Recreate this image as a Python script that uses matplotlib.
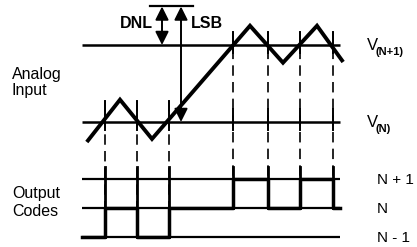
import numpy as np
import matplotlib.pyplot as plt

plt.rcParams['font.family'] = ['Liberation Sans', 'DejaVu Sans']
plt.rcParams['lines.scale_dashes'] = False

# analog input (time, volts in LSB above V(N))
wave_t = [88, 120, 152, 250, 283, 317, 342]
wave_v = [-0.24, 0.29, -0.22, 1.25, 0.77, 1.25, 0.80]

# where the input crosses a threshold, and which threshold
cross_t = [105, 137, 169, 233, 268, 300, 333]
cross_lvl = [0, 0, 0, 1, 1, 1, 1]

# output code between crossings (relative to N)
codes = [-1, 0, -1, 0, 1, 0, 1, 0]

analog_levels = [0, 1]
analog_subs = ['(N)', '(N+1)']
code_levels = [1, 0, -1]
code_labels = ['N + 1', 'N', 'N - 1']
dnl_top = 1.5  # LSB

# layout (pixels)
X0, X1 = 82, 340
VN_Y, LSB_PX = 122, 77
CODE_Y, CODE_PX = 208, 29


def ay(v):
    return VN_Y - LSB_PX * np.asarray(v, dtype=float)


def cy(c):
    return CODE_Y - CODE_PX * np.asarray(c, dtype=float)


fig = plt.figure(figsize=(4.17, 2.47), dpi=100)
ax = fig.add_axes([0, 0, 1, 1])
ax.set_xlim(0, 417)
ax.set_ylim(247, 0)
ax.axis('off')

# threshold lines
for lv in analog_levels:
    ax.plot([X0, X1], [ay(lv), ay(lv)], color='k', lw=1.8, solid_capstyle='butt')
for c in code_levels:
    ax.plot([X0, X1], [cy(c), cy(c)], color='k', lw=1.6, solid_capstyle='butt')

# analog waveform
ax.plot(wave_t, ay(wave_v), color='k', lw=2.8, solid_joinstyle='miter')

# output code
t_pts = [X0] + cross_t + [X1]
c_pts = codes + [codes[-1]]
ax.step(t_pts, cy(c_pts), where='post', color='k', lw=2.5)

# dashed verticals at each crossing
for i, (t, lv) in enumerate(zip(cross_t, cross_lvl)):
    top = ay(lv) - (21 if lv == 0 else 13)
    bot = cy(min(codes[i], codes[i + 1]))
    ax.plot([t, t], [top, bot], color='k', lw=1.2, ls=(0, (7.5, 4.5)))
    ax.plot([t, t], [top, ay(lv) + 8], color='k', lw=1.4)
    if lv == 1:
        ax.plot([t, t], [ay(0) - 13, ay(0) + 8], color='k', lw=1.4)
    ax.plot([t, t], [cy(1) - 12, bot], color='k', lw=2.0)

# DNL / LSB arrows
ax.plot([150, 193], [ay(dnl_top), ay(dnl_top)], color='k', lw=1.6)
arrow = dict(arrowstyle='<|-|>', color='k', lw=1.4, mutation_scale=20,
             shrinkA=0, shrinkB=0)
ax.annotate('', xy=(162, ay(dnl_top)), xytext=(162, ay(1)), arrowprops=arrow)
ax.annotate('', xy=(181, ay(dnl_top)), xytext=(181, ay(0)), arrowprops=arrow)
ax.text(153, 28, 'DNL', ha='right', va='baseline', fontsize=11.5, fontweight='bold')
ax.text(191, 28, 'LSB', ha='left', va='baseline', fontsize=11.5, fontweight='bold')

# labels
ax.text(12, 79, 'Analog', fontsize=11.5, va='baseline')
ax.text(12, 95, 'Input', fontsize=11.5, va='baseline')
ax.text(12, 198, 'Output', fontsize=11.5, va='baseline')
ax.text(12, 216, 'Codes', fontsize=11.5, va='baseline')

for lv, sub in zip(analog_levels, analog_subs):
    ax.text(367, ay(lv) + 5, 'V', fontsize=12, va='baseline')
    ax.text(376, ay(lv) + 10, sub, fontsize=8, fontweight='bold', va='baseline')

for c, lab in zip(code_levels, code_labels):
    ax.text(377, cy(c) + 5, lab, fontsize=11, va='baseline')

fig.savefig('out.png', dpi=100)
